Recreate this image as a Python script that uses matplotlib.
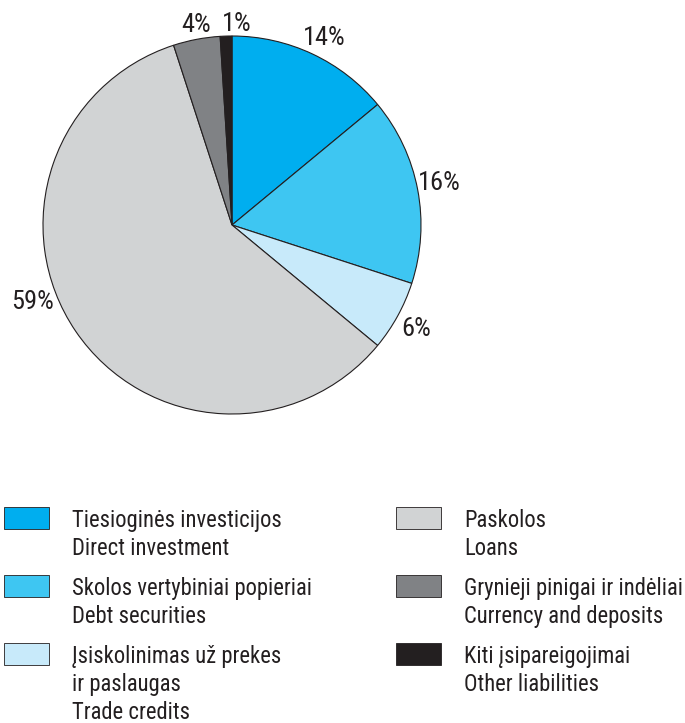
import numpy as np
import matplotlib.pyplot as plt
from matplotlib.patches import Rectangle

plt.rcParams['font.family'] = ['Roboto Condensed', 'Liberation Sans Narrow', 'Roboto', 'DejaVu Sans']

# Data
shares = [14, 16, 6, 59, 4, 1]
colors = ['#00AEEF', '#3EC6F2', '#C8EAFA', '#D1D3D4', '#808285', '#231F20']
labels_lt = ['Tiesioginės investicijos', 'Skolos vertybiniai popieriai',
             'Įsiskolinimas už prekes\nir paslaugas', 'Paskolos',
             'Grynieji pinigai ir indėliai', 'Kiti įsipareigojimai']
labels_en = ['Direct investment', 'Debt securities', 'Trade credits',
             'Loans', 'Currency and deposits', 'Other liabilities']

# label nudges (degrees clockwise) and radii, as in the original layout
label_shift = [1.0, -0.6, 0.5, 13.0, 0.6, 3.2]
label_rad = [1.10, 1.12, 1.12, 1.13, 1.075, 1.065]

W, H = 685, 723
fig = plt.figure(figsize=(W / 100, H / 100), dpi=100)
ink = '#231F20'

# Pie
cx, cy, r = 232, 225, 189
ax = fig.add_axes([(cx - r) / W, 1 - (cy + r) / H, 2 * r / W, 2 * r / H])
wedges, _ = ax.pie(shares, colors=colors, startangle=90, counterclock=False,
                   wedgeprops={'edgecolor': ink, 'linewidth': 0.8, 'clip_on': False})
for w, v, sh, rr in zip(wedges, shares, label_shift, label_rad):
    ang = np.deg2rad((w.theta1 + w.theta2) / 2 - sh)
    ax.text(rr * np.cos(ang), rr * np.sin(ang), f'{v}%', fontsize=19, color=ink,
            ha='center', va='center')
ax.set_xlim(-1, 1)
ax.set_ylim(-1, 1)
ax.set_aspect('equal')

# Legend drawn by hand
col_x = [4, 396]
row_y = [507, 575, 643]
line_h = 28
for i, (lt, en, c) in enumerate(zip(labels_lt, labels_en, colors)):
    x0 = col_x[i // 3]
    y0 = row_y[i % 3]
    fig.patches.append(Rectangle((x0 / W, 1 - (y0 + 22) / H), 45 / W, 22 / H,
                                 transform=fig.transFigure, facecolor=c,
                                 edgecolor=ink, linewidth=0.6))
    lines = lt.split('\n') + [en]
    for k, line in enumerate(lines):
        fig.text((x0 + 68) / W, 1 - (y0 + 20 + k * line_h) / H, line, fontsize=16.3,
                 color=ink, ha='left', va='baseline')

fig.savefig('out.png', dpi=100)
